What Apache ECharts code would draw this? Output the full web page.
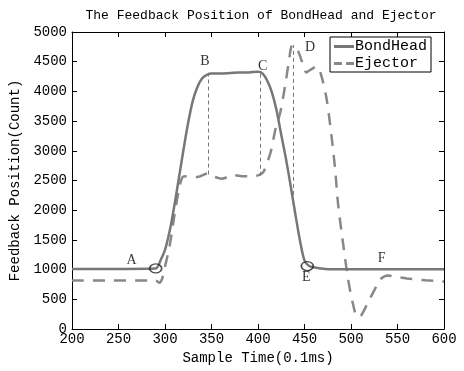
<!DOCTYPE html>
<html>
<head>
<meta charset="utf-8">
<script src="https://cdn.jsdelivr.net/npm/echarts@6/dist/echarts.min.js"></script>
<style>
html, body { margin: 0; padding: 0; background: #fff; }
#chart { width: 464px; height: 371px; }
</style>
</head>
<body>
<div id="chart"></div>
<script>
// BondHead feedback position
var bhX = [200, 290, 295, 300, 305, 308, 314, 320, 325, 330, 335, 340, 345, 350, 360, 370, 380, 390, 400, 405, 410, 415, 420, 425, 430, 435, 440, 445, 450, 455, 460, 470, 480, 500, 600];
var bhY = [1010, 1020, 1150, 1330, 1650, 1890, 2450, 3030, 3480, 3850, 4080, 4220, 4280, 4300, 4300, 4310, 4320, 4320, 4330, 4300, 4180, 3980, 3680, 3270, 2870, 2420, 1950, 1500, 1150, 1060, 1040, 1015, 1005, 1005, 1005];
// Ejector feedback position
var ejX = [200, 290, 294, 297, 300, 305, 310, 315, 319, 323, 335, 346, 352, 361, 368, 374, 385, 395, 402, 406, 411, 414, 419, 424, 429, 433, 437, 443, 448, 452, 456, 463, 468, 474, 479, 483, 486, 492, 497, 502, 507, 511, 518, 525, 531, 540, 548, 560, 580, 600];
var ejY = [815, 815, 780, 850, 1050, 1400, 1900, 2350, 2560, 2570, 2560, 2620, 2570, 2530, 2560, 2590, 2570, 2570, 2600, 2650, 2850, 3000, 3380, 3650, 4080, 4480, 4780, 4680, 4470, 4320, 4360, 4420, 4270, 3850, 3250, 2680, 2120, 1380, 830, 430, 200, 230, 440, 650, 830, 900, 880, 850, 820, 800];
// thin vertical guides at B, C, D
var guides = [[346, 2600, 4290], [402, 2580, 4330], [438, 2140, 4780]];
// ellipse markers
var circles = [[290, 1020], [453, 1060]];
// point letters
var letters = [['A', 264, 1160], ['B', 343, 4500], ['C', 405, 4420], ['D', 456, 4740], ['E', 452, 870], ['F', 533, 1190]];
var xTicks = [200, 600, 50];
var yTicks = [0, 5000, 500];

function pairs(xs, ys) {
	return xs.map(function (x, i) { return [x, ys[i]]; });
}

var mono = 'Liberation Mono';
var chart = echarts.init(document.getElementById('chart'));

function axisBase(extra) {
	var a = {
		type: 'value',
		axisLine: { show: true, onZero: false, lineStyle: { color: '#000', width: 1 } },
		axisTick: { show: true, inside: true, length: 5, lineStyle: { color: '#000' } },
		splitLine: { show: false },
		axisLabel: { color: '#000', fontFamily: mono, fontSize: 14 }
	};
	for (var k in extra) a[k] = extra[k];
	return a;
}

var option = {
	animation: false,
	backgroundColor: '#fff',
	title: {
		text: 'The Feedback Position of BondHead and Ejector',
		left: 256, top: 4, textAlign: 'center',
		textStyle: { fontFamily: mono, fontSize: 13, fontWeight: 'normal', color: '#000' }
	},
	legend: {
		data: [
			{ name: 'BondHead', icon: 'rect' },
			{ name: 'Ejector', icon: 'path://M0,0h8v3h-8z M12,0h8v3h-8z' }
		],
		orient: 'vertical',
		left: 330, top: 37,
		borderColor: '#000', borderWidth: 1,
		padding: [2, 4, 1, 4],
		itemGap: 2, itemWidth: 20, itemHeight: 3,
		textStyle: { fontFamily: mono, fontSize: 15, color: '#000', padding: [0, 0, 0, -4] }
	},
	grid: { left: 72, right: 20, top: 32, bottom: 42 },
	xAxis: [
		axisBase({
			min: xTicks[0], max: xTicks[1], interval: xTicks[2], position: 'bottom',
			name: 'Sample Time(0.1ms)', nameLocation: 'middle', nameGap: 19,
			nameTextStyle: { fontFamily: mono, fontSize: 14, color: '#000' },
			axisLabel: { color: '#000', fontFamily: mono, fontSize: 14, margin: 3 }
		}),
		axisBase({
			min: xTicks[0], max: xTicks[1], interval: xTicks[2], position: 'top',
			axisLabel: { show: false }
		})
	],
	yAxis: [
		axisBase({
			min: yTicks[0], max: yTicks[1], interval: yTicks[2], position: 'left',
			name: 'Feedback Position(Count)', nameLocation: 'middle', nameGap: 44,
			nameTextStyle: { fontFamily: mono, fontSize: 14, color: '#000' },
			axisLabel: {
				color: '#000', fontFamily: mono, fontSize: 14, margin: 5,
				formatter: function (v) { return String(v); }
			}
		}),
		axisBase({
			min: yTicks[0], max: yTicks[1], interval: yTicks[2], position: 'right',
			axisLabel: { show: false }
		})
	],
	series: [{
		name: 'BondHead',
		type: 'line',
		data: pairs(bhX, bhY),
		smooth: 0.3,
		symbol: 'none',
		color: '#777',
		lineStyle: { color: '#777', width: 2.5 },
		z: 3,
		markLine: {
			silent: true,
			symbol: ['none', 'none'],
			label: { show: false },
			lineStyle: { color: '#777', width: 1, type: [4, 3] },
			data: guides.map(function (g) {
				return [{ coord: [g[0], g[1]] }, { coord: [g[0], g[2]] }];
			})
		}
	}, {
		name: 'Ejector',
		type: 'line',
		data: pairs(ejX, ejY),
		smooth: 0.3,
		symbol: 'none',
		color: '#888',
		lineStyle: { color: '#888', width: 2.5, type: [12, 9] },
		z: 2
	}, {
		name: 'circles',
		type: 'scatter',
		data: circles,
		symbol: 'circle',
		symbolSize: [12, 9],
		itemStyle: { color: 'rgba(0,0,0,0)', borderColor: '#222', borderWidth: 1.5 },
		z: 5
	}, {
		name: 'letters',
		type: 'scatter',
		data: letters.map(function (l) { return { name: l[0], value: [l[1], l[2]] }; }),
		symbolSize: 1,
		itemStyle: { color: 'rgba(0,0,0,0)' },
		label: {
			show: true, position: 'inside', formatter: '{b}',
			fontFamily: 'Liberation Serif', fontSize: 14, color: '#000'
		},
		z: 6
	}]
};
chart.setOption(option);
</script>
</body>
</html>
